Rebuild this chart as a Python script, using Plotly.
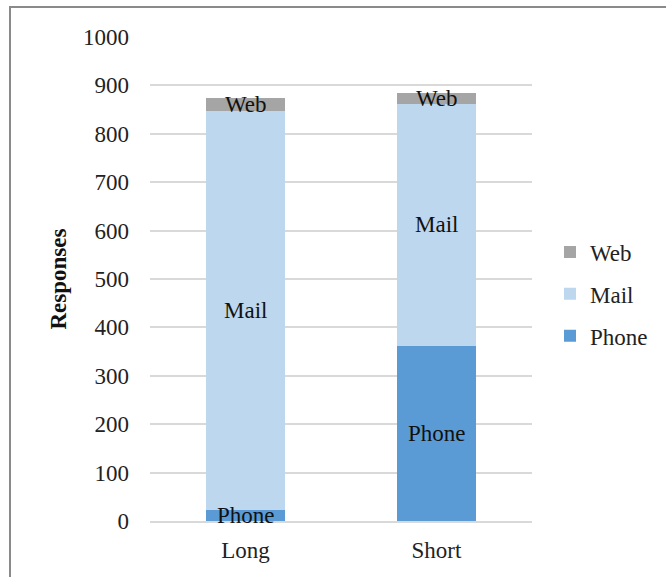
import plotly.graph_objects as go

# Survey responses by questionnaire length and mode
categories = ["Long", "Short"]
phone = [22, 362]
mail = [825, 500]
web = [27, 23]

series = [("Phone", phone, "#5B9BD5"), ("Mail", mail, "#BDD7EE"), ("Web", web, "#A5A5A5")]

W, H = 666, 577
L, R, T, B = 150, 134, 37, 56
pw, ph = W - L - R, H - T - B
FONT = "Liberation Serif"
FS = 23

fig = go.Figure()
for k, (name, vals, color) in enumerate(series):
    fig.add_trace(go.Bar(
        x=categories, y=vals, name=name, marker=dict(color=color, line=dict(width=0)),
        legendgroup=name, legendrank=len(series) - k, hoverinfo="skip",
    ))

# Series-name labels centred on each stacked segment
base = [0] * len(categories)
for name, vals, color in series:
    for j, cat in enumerate(categories):
        fig.add_annotation(x=cat, y=base[j] + vals[j] / 2, text=name, showarrow=False,
                           font=dict(family=FONT, size=FS, color="#111111"),
                           xref="x", yref="y")
        base[j] += vals[j]

def px_x(p):
    return (p - L) / pw

def px_y(p):
    return (H - B - p) / ph

# Outer frame
fig.add_shape(type="rect", xref="paper", yref="paper",
              x0=px_x(10), x1=px_x(672), y0=px_y(7), y1=px_y(585),
              line=dict(color="#8a8a8a", width=2), fillcolor="rgba(0,0,0,0)", layer="below")

fig.update_layout(
    width=W, height=H, barmode="stack", bargap=0.59,
    margin=dict(l=L, r=R, t=T, b=B, autoexpand=False),
    plot_bgcolor="white", paper_bgcolor="white",
    font=dict(family=FONT, size=FS, color="#222222"),
    showlegend=True,
    legend=dict(x=px_x(550), y=px_y(294), xanchor="left", yanchor="middle",
                traceorder="grouped", tracegroupgap=9,
                font=dict(family=FONT, size=FS, color="#222222"),
                itemwidth=30),
    xaxis=dict(showgrid=False, showline=True, linecolor="#d9d9d9", linewidth=1.5,
               ticks="", ticklabelstandoff=8, fixedrange=True),
    yaxis=dict(range=[0, 1000], dtick=100, showgrid=True, gridcolor="#d9d9d9", gridwidth=1.5,
               zeroline=False, showline=False, ticks="", ticklabelstandoff=20,
               title=dict(text="<b>Responses</b>", standoff=9,
                          font=dict(family=FONT, size=FS, color="#111111")),
               fixedrange=True),
)

fig.write_html("out.html")
